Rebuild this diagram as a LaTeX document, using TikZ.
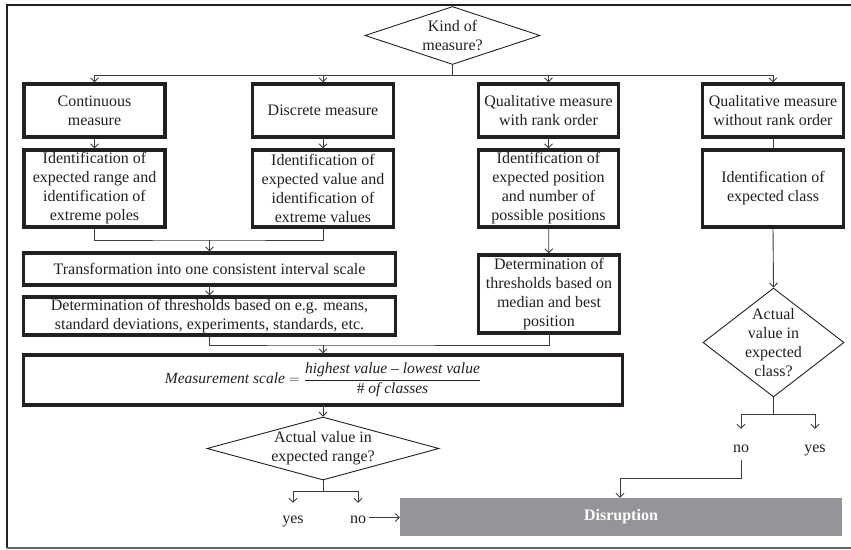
\documentclass[tikz,border=0pt]{standalone}
\usepackage{amsmath}
\usepackage{fontspec}
\setmainfont{Liberation Serif}
\usetikzlibrary{arrows.meta,shapes.geometric}
\definecolor{ink}{HTML}{231F20}
\definecolor{wire}{HTML}{3C3C3C}
\definecolor{slab}{HTML}{939598}
\tikzset{
  every node/.style={font=\fontsize{16}{19}\selectfont, text=ink},
  bigbox/.style={draw=ink, line width=3.2pt, align=center, inner sep=0pt},
  rhomb/.style={diamond, draw=ink, line width=0.9pt, inner sep=0pt},
  conn/.style={draw=wire, line width=0.9pt},
  arr/.style={conn, -{Straight Barb[length=4pt,width=8pt,line width=0.9pt]}},
  answer/.style={inner sep=0pt, text height=11pt, text depth=0pt, anchor=base},
}
\begin{document}
\begin{tikzpicture}[x=1pt,y=-1pt]
\useasboundingbox (0,0) rectangle (851,549);
% frame
\draw[ink, line width=2.6pt] (7,548) -- (7,5) -- (851,5);
\draw[wire!80, line width=1.2pt] (7,548) -- (851,548);

% top decision
\node[rhomb, minimum width=175, minimum height=58] (kind) at (452.5,35.5) {};
\node[align=center] (kindtxt) at (kind) {Kind of\\measure?};
\coordinate (bus) at (452.5,75);

% first row of measure types
\node[bigbox, minimum width=141, minimum height=53] (b1) at (94.5,110.5) {Continuous\\measure};
\node[bigbox, minimum width=141, minimum height=53] (b2) at (323,110.5) {Discrete measure};
\node[bigbox, minimum width=140, minimum height=53] (b3) at (548.5,110.5) {Qualitative measure\\with rank order};
\node[bigbox, minimum width=141, minimum height=53] (b4) at (773,110.5) {Qualitative measure\\without rank order};

% identification boxes
\node[bigbox, minimum width=141, minimum height=77] (c1) at (94.5,188.5) {Identification of\\expected range and\\identification of\\extreme poles};
\node[bigbox, minimum width=141, minimum height=77] (c2) at (323,188.5) {Identification of\\expected value and\\identification of\\extreme values};
\node[bigbox, minimum width=140, minimum height=77] (c3) at (548.5,188.5) {Identification of\\expected position\\and number of\\possible positions};
\node[bigbox, minimum width=141, minimum height=77] (c4) at (773,188.5) {Identification of\\expected class};

% left column processing
\node[bigbox, minimum width=372, minimum height=32] (trans) at (209.5,269) {Transformation into one consistent interval scale};
\node[bigbox, minimum width=372, minimum height=38] (det) at (209.5,316) {Determination of thresholds based on e.g. means,\\standard deviations, experiments, standards, etc.};
\node[bigbox, minimum width=141, minimum height=78] (rank) at (549,294) {Determination of\\thresholds based on\\median and best\\position};
\node[bigbox, minimum width=599, minimum height=50] (meas) at (323,380)
  {\fontsize{15.5}{18}\selectfont $\mathit{Measurement\ scale} = \dfrac{\mathit{highest\ value}\ \text{\itshape –}\ \mathit{lowest\ value}}{\#\ \mathit{of\ classes}}$};

% range decision
\node[rhomb, minimum width=232, minimum height=63] (range) at (323,448.5) {};
\node[align=center] (rangetxt) at (range) {Actual value in\\expected range?};
\coordinate (fk1) at (323,491);
\node[answer] (yes1) at (293,523) {yes};
\node[answer] (no1) at (358,523) {no};

% class decision
\node[rhomb, minimum width=141, minimum height=109] (cls) at (773.5,342.5) {};
\node[align=center] (clstxt) at (cls) {Actual\\value in\\expected\\class?};
\coordinate (fk2) at (773.5,414);
\node[answer] (no2) at (741,452) {no};
\node[answer] (yes2) at (815,452) {yes};

% outcome
\node[fill=slab, minimum width=442, minimum height=38, inner sep=0pt,
      text=white, font=\fontsize{16}{19}\selectfont\bfseries] (dis) at (621,517) {Disruption};

% connectors
\draw[conn] (kind.south) -- (bus);
\draw[arr] (bus) -| (b1.north);
\draw[arr] (bus) -| (b2.north);
\draw[arr] (bus) -| (b3.north);
\draw[arr] (bus) -| (b4.north);
\draw[arr] (b1) -- (c1);
\draw[arr] (b2) -- (c2);
\draw[arr] (b3) -- (c3);
\draw[conn] (b4) -- (c4);

\coordinate (m1) at (209.5,240);
\draw[conn] (c1.south) |- (m1) -| (c2.south);
\draw[arr] (m1) -- (trans.north);
\draw[arr] (trans) -- (det);
\draw[arr] (c3) -- (rank);

\coordinate (m2) at (323,345);
\draw[conn] (det.south) |- (m2) -| (rank.south);
\draw[arr] (m2) -- (meas.north);
\draw[arr] (meas.south) -- (range.north);

\draw[conn] (range.south) -- (fk1);
\draw[arr, shorten >=9pt] (fk1) -| (yes1.north);
\draw[arr, shorten >=9pt] (fk1) -| (no1.north);
\draw[arr] ([xshift=3pt]no1.east) -- (dis.west |- no1.east);

\draw[arr] (c4.south) -- (cls.north);
\draw[conn] (cls.south) -- (fk2);
\draw[arr, shorten >=12pt] (fk2) -| (no2.north);
\draw[arr, shorten >=12pt] (fk2) -| (yes2.north);
\coordinate (turn) at (620,478);
\draw[arr, shorten <=8pt] (no2.south) |- (turn) -- (turn |- dis.north);
\end{tikzpicture}
\end{document}
